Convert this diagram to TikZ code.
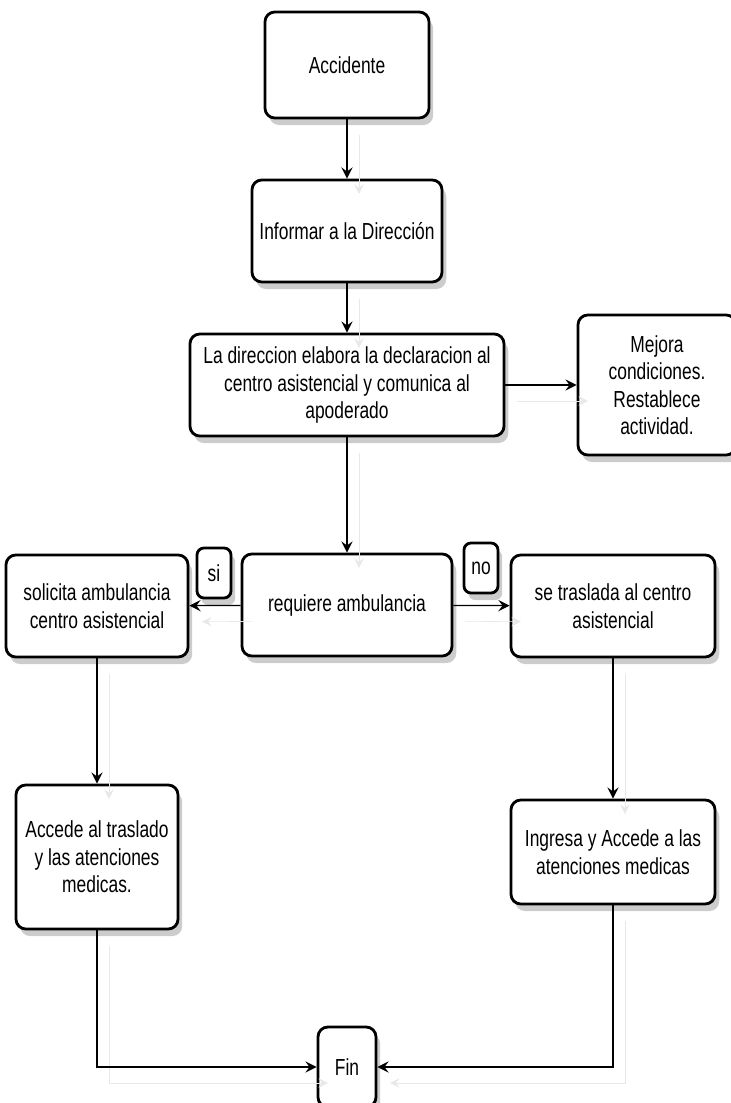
\documentclass[tikz,border=0pt]{standalone}
\usepackage{fontspec}
\setmainfont[FakeStretch=0.75]{Liberation Sans}
\usetikzlibrary{arrows.meta,shadows}

\tikzset{
  box/.style = {draw, line width=2pt, rounded corners=7pt, fill=white, align=center,
                font=\fontsize{16.5}{19.5}\selectfont,
                drop shadow={opacity=0.2, shadow xshift=3pt, shadow yshift=-5pt, fill=black}},
  link/.style = {line width=0.9pt, -{Stealth[length=8pt,width=8pt,inset=3pt]},
                 preaction={draw=black!9, transform canvas={shift={(12,16)}}}},
}

\begin{document}
\begin{tikzpicture}[x=0.025cm, y=-0.025cm]
  \useasboundingbox (0,0) rectangle (730,1103);

  \node [box, minimum width=4.1cm, minimum height=2.65cm]  (acc)  at (347,65)  {Accidente};
  \node [box, minimum width=4.75cm, minimum height=2.55cm] (inf)  at (347,231) {Informar a la Dirección};
  \node [box, minimum width=7.85cm, minimum height=2.55cm] (dir)  at (347,385) {La direccion elabora la declaracion al\\ centro asistencial y comunica al\\ apoderado};
  \node [box, minimum width=3.95cm, minimum height=3.5cm]  (mej)  at (657,385) {Mejora\\ condiciones.\\ Restablece\\ actividad.};
  \node [box, minimum width=5.25cm, minimum height=2.55cm] (req)  at (347,605) {requiere ambulancia};
  \node [box, minimum width=4.55cm, minimum height=2.55cm] (sol)  at (97,606)  {solicita ambulancia\\ centro asistencial};
  \node [box, minimum width=5.1cm, minimum height=2.55cm]  (tra)  at (613,606) {se traslada al centro\\ asistencial};
  \node [box, minimum width=4.05cm, minimum height=3.6cm]  (acd)  at (97,857)  {Accede al traslado\\ y las atenciones\\ medicas.};
  \node [box, minimum width=5.1cm, minimum height=2.6cm]   (ing)  at (613,852) {Ingresa y Accede a las\\ atenciones medicas};
  \node [box, minimum width=1.45cm, minimum height=2cm]    (fin)  at (347,1067) {Fin};

  \node [box, rounded corners=5pt, minimum width=0.85cm, minimum height=1.25cm, inner sep=2pt] (si) at (214,573) {si};
  \node [box, rounded corners=5pt, minimum width=0.85cm, minimum height=1.25cm, inner sep=2pt] (no) at (481,568) {no};

  \draw [link] (acc) -- (inf);
  \draw [link] (inf) -- (dir);
  \draw [link] (dir) -- (mej);
  \draw [link] (dir) -- (req);
  \draw [link] (req) -- (sol);
  \draw [link] (req) -- (tra);
  \draw [link] (sol) -- (acd);
  \draw [link] (tra) -- (ing);
  \draw [link] (acd.south) |- (fin.west);
  \draw [link] (ing.south) |- (fin.east);
\end{tikzpicture}
\end{document}
